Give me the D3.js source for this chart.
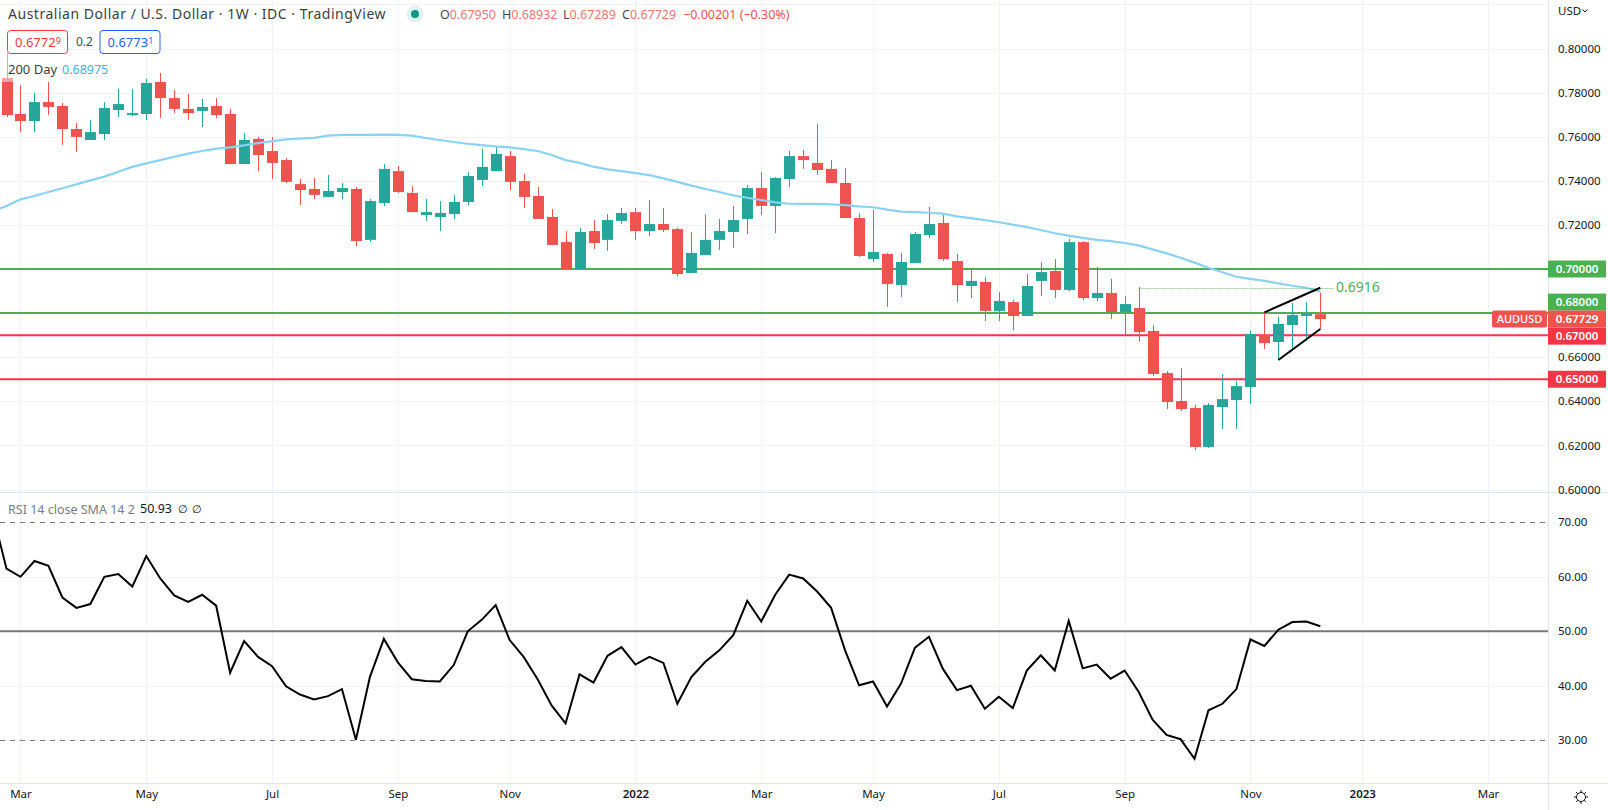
<!DOCTYPE html>
<html>
<head>
<meta charset="utf-8">
<script src="https://cdn.jsdelivr.net/npm/d3@7"></script>
<style>
  html, body { margin: 0; padding: 0; background: #fff; }
  svg { display: block; }
  text { font-family: "Noto Sans", "Open Sans", sans-serif; }
</style>
</head>
<body>
<div id="chart"></div>
<script>
// weekly AUD/USD bars
const opens = [.7866,.7703,.7671,.7757,.7739,.7635,.7585,.7612,.7721,.7698,.7703,.7848,.7775,.7726,.7717,.7739,.7703,.7476,.7590,.7535,.7494,.7385,.7363,.7327,.7349,.7363,.7132,.7299,.7444,.7345,.7245,.7236,.7249,.7304,.7404,.7444,.7512,.7399,.7331,.7236,.7122,.7000,.7172,.7132,.7218,.7258,.7172,.7204,.7181,.6982,.7063,.7132,.7168,.7227,.7367,.7286,.7408,.7512,.7481,.7454,.7390,.7231,.7045,.7068,.6927,.7027,.7154,.7209,.7036,.6923,.6941,.6810,.6850,.6787,.6946,.6991,.6905,.7122,.6868,.6891,.6805,.6823,.6719,.6528,.6401,.6370,.6193,.6374,.6406,.6465,.6701,.6669,.6746,.6787,.67950];
const highs = [.7980,.7834,.7798,.7848,.7753,.7662,.7676,.7757,.7816,.7816,.7862,.7889,.7812,.7794,.7771,.7775,.7726,.7617,.7599,.7599,.7503,.7408,.7413,.7426,.7390,.7372,.7317,.7476,.7467,.7376,.7317,.7308,.7336,.7440,.7544,.7553,.7535,.7431,.7372,.7272,.7172,.7186,.7222,.7249,.7277,.7277,.7313,.7277,.7186,.7168,.7249,.7227,.7286,.7381,.7440,.7417,.7535,.7540,.7658,.7494,.7458,.7254,.7268,.7073,.7073,.7168,.7281,.7245,.7068,.6995,.6964,.6896,.6859,.6977,.7032,.7045,.7136,.7127,.7009,.6955,.6878,.6918,.6746,.6537,.6551,.6383,.6392,.6524,.6492,.6719,.6805,.6782,.6846,.6850,.68932];
const lows = [.7689,.7621,.7621,.7698,.7562,.7531,.7585,.7585,.7689,.7694,.7676,.7685,.7707,.7676,.7644,.7685,.7476,.7476,.7444,.7408,.7390,.7290,.7317,.7327,.7317,.7104,.7122,.7286,.7345,.7258,.7218,.7172,.7227,.7290,.7376,.7444,.7358,.7277,.7227,.7109,.7000,.7000,.7091,.7082,.7204,.7132,.7150,.7168,.6968,.6982,.7063,.7086,.7095,.7159,.7245,.7163,.7372,.7454,.7426,.7390,.7231,.7054,.7032,.6828,.6873,.7027,.7141,.7036,.6850,.6868,.6764,.6764,.6723,.6787,.6878,.6868,.6900,.6859,.6855,.6773,.6701,.6669,.6515,.6365,.6356,.6179,.6188,.6274,.6274,.6388,.6637,.6587,.6642,.6673,.67289];
const closes = [.7698,.7671,.7757,.7735,.7635,.7599,.7621,.7730,.7748,.7707,.7844,.7775,.7726,.7707,.7735,.7698,.7476,.7585,.7517,.7481,.7395,.7358,.7336,.7354,.7367,.7127,.7308,.7454,.7349,.7258,.7258,.7254,.7304,.7422,.7463,.7522,.7395,.7327,.7227,.7109,.7000,.7168,.7118,.7222,.7254,.7172,.7204,.7177,.6977,.7073,.7132,.7172,.7222,.7367,.7286,.7413,.7512,.7494,.7449,.7390,.7231,.7059,.7077,.6932,.7032,.7159,.7204,.7045,.6927,.6946,.6810,.6855,.6787,.6923,.6986,.6905,.7122,.6868,.6891,.6805,.6841,.6714,.6524,.6397,.6365,.6193,.6383,.6410,.6469,.6705,.6664,.6751,.6791,.6796,.67729];

// 200 day average, first value belongs to the bar before the first candle
const ma200 = [.7263,.7286,.7316,.7331,.7349,.7366,.7384,.7402,.7419,.7441,.7463,.7479,.7494,.7509,.7523,.7535,.7546,.7552,.7561,.7571,.7580,.7588,.7591,.7595,.7605,.7608,.7608,.7608,.7609,.7608,.7605,.7594,.7585,.7576,.7568,.7562,.7556,.7552,.7544,.7535,.7517,.7494,.7481,.7464,.7452,.7444,.7435,.7426,.7411,.7395,.7378,.7363,.7349,.7334,.7323,.7313,.7302,.7296,.7295,.7295,.7293,.7290,.7284,.7280,.7269,.7260,.7258,.7255,.7251,.7239,.7231,.7222,.7212,.7201,.7190,.7177,.7162,.7151,.7141,.7132,.7126,.7118,.7107,.7089,.7071,.7051,.7029,.7006,.6985,.6965,.6955,.6946,.6935,.6924,.6915,.68975];

// RSI, same offset as ma200
const rsi = [71.7,61.5,60.0,62.9,62.0,56.2,54.3,55.0,60.0,60.5,58.2,63.8,59.7,56.6,55.4,56.7,54.7,42.4,48.2,45.3,43.6,39.9,38.4,37.5,38.1,39.4,30.1,41.6,48.6,44.3,41.2,40.9,40.8,43.8,50.0,52.1,54.8,48.4,45.3,41.2,36.4,33.1,42.1,40.6,45.5,47.1,43.9,45.3,44.2,36.7,41.6,44.4,46.5,49.3,55.6,51.8,56.7,60.4,59.7,57.3,54.3,46.5,40.1,40.8,36.2,40.4,47.0,49.0,43.1,39.2,40.0,35.8,38.0,35.9,42.8,45.6,42.8,51.9,43.2,43.9,41.3,42.8,38.9,33.8,31.0,30.2,26.6,35.5,36.7,39.4,48.5,47.3,50.3,51.7,51.8,50.93];

const priceTicks = [.80,.78,.76,.74,.72,.66,.64,.62,.60];
const priceGrid = [.82,.80,.78,.76,.74,.72,.70,.68,.66,.64,.62,.60];
const rsiTicks = [70,60,50,40,30];
const rsiGrid = [60,40];
const timeTicks = [1,10,19,28,36,45,54,62,71,80,89,97,106];
const timeLabels = ["Mar","May","Jul","Sep","Nov","2022","Mar","May","Jul","Sep","Nov","2023","Mar"];

const levels = [.70,.68,.67,.65];
const levelColors = ["#4caf50","#4caf50","#f23645","#f23645"];
const levelShift = [0,-11,1,0];

const wedgeUpper = [[90,.6803],[94,.6915]];
const wedgeLower = [[91,.6587],[94,.6728]];
const dottedFrom = 81, dottedLevel = .6916;
const lastPrice = .67729;

const w = 1608, h = 810;
const plotRight = 1548, paneEnd = 490, rsiTop = 493, plotBottom = 783;

const x = d3.scaleLinear().domain([0,94]).range([6.5,1320.3]);
const y = d3.scaleLinear().domain([.60,.80]).range([489.5,48.5]);
const yR = d3.scaleLinear().domain([30,70]).range([740.3,522.3]);

const up = "#26a69a", down = "#ef5350", grid = "#f0f3fa", ink = "#131722", gray = "#787b86";

const svg = d3.select("#chart").append("svg").attr("width",w).attr("height",h);
const defs = svg.append("defs");
defs.append("clipPath").attr("id","main").append("rect").attr("width",plotRight).attr("height",paneEnd);
defs.append("clipPath").attr("id","low").append("rect").attr("y",rsiTop).attr("width",plotRight).attr("height",plotBottom-rsiTop);

// grid
const gridG = svg.append("g").attr("stroke",grid).attr("stroke-width",1);
gridG.selectAll(".v").data(timeTicks).join("line")
  .attr("x1",d=>Math.round(x(d))+.5).attr("x2",d=>Math.round(x(d))+.5).attr("y1",0).attr("y2",plotBottom);
gridG.selectAll(".p").data(priceGrid).join("line")
  .attr("x1",0).attr("x2",plotRight).attr("y1",d=>Math.round(y(d))+.5).attr("y2",d=>Math.round(y(d))+.5);
gridG.selectAll(".r").data(rsiGrid).join("line")
  .attr("x1",0).attr("x2",plotRight).attr("y1",d=>Math.round(yR(d))+.5).attr("y2",d=>Math.round(yR(d))+.5);

// price pane
const main = svg.append("g").attr("clip-path","url(#main)");
main.selectAll(".level").data(levels).join("line")
  .attr("x1",0).attr("x2",plotRight).attr("y1",d=>y(d)).attr("y2",d=>y(d))
  .attr("stroke",(d,i)=>levelColors[i]).attr("stroke-width",2);

const candles = main.selectAll(".candle").data(d3.range(opens.length)).join("g")
  .attr("fill",i=>closes[i]>=opens[i]?up:down);
candles.append("rect")
  .attr("x",i=>Math.round(x(i))).attr("width",1)
  .attr("y",i=>y(highs[i])).attr("height",i=>y(lows[i])-y(highs[i]));
candles.append("rect")
  .attr("x",i=>Math.round(x(i))-5).attr("width",11)
  .attr("y",i=>y(Math.max(opens[i],closes[i])))
  .attr("height",i=>Math.max(1,Math.abs(y(opens[i])-y(closes[i]))));

const maLine = d3.line().x((d,i)=>x(i-1)).y(d=>y(d));
main.append("path").datum(ma200).attr("d",maLine)
  .attr("fill","none").attr("stroke","#8ad2f1").attr("stroke-width",2.2);

main.append("line")
  .attr("x1",x(dottedFrom)).attr("x2",1334)
  .attr("y1",Math.round(y(dottedLevel))+.5).attr("y2",Math.round(y(dottedLevel))+.5)
  .attr("stroke","#4caf50").attr("stroke-opacity",.8).attr("stroke-dasharray","1 1");
main.selectAll(".wedge").data([wedgeUpper,wedgeLower]).join("line")
  .attr("x1",d=>x(d[0][0])).attr("y1",d=>y(d[0][1]))
  .attr("x2",d=>x(d[1][0])).attr("y2",d=>y(d[1][1]))
  .attr("stroke","#000").attr("stroke-width",2);
main.append("text").attr("x",1336).attr("y",y(dottedLevel)).attr("dy",".35em")
  .attr("font-size",14).attr("fill","#4caf50").text(dottedLevel);

// rsi pane
const lowG = svg.append("g").attr("clip-path","url(#low)");
lowG.selectAll(".band").data([70,30]).join("line")
  .attr("x1",0).attr("x2",plotRight).attr("y1",d=>Math.round(yR(d))+.5).attr("y2",d=>Math.round(yR(d))+.5)
  .attr("stroke",gray).attr("stroke-dasharray","5 5");
lowG.append("line").attr("x1",0).attr("x2",plotRight).attr("y1",yR(50)).attr("y2",yR(50))
  .attr("stroke","#787878").attr("stroke-width",2);
lowG.append("path").datum(rsi)
  .attr("d",d3.line().x((d,i)=>x(i-1)).y(d=>yR(d)))
  .attr("fill","none").attr("stroke","#000").attr("stroke-width",2);

// separators
const sep = svg.append("g").attr("stroke","#e0e3eb");
sep.append("line").attr("x1",0).attr("x2",w).attr("y1",492.5).attr("y2",492.5);
sep.append("line").attr("x1",0).attr("x2",w).attr("y1",plotBottom+.5).attr("y2",plotBottom+.5);
sep.append("line").attr("x1",plotRight+.5).attr("x2",plotRight+.5).attr("y1",0).attr("y2",h);

// axes
const styleAxis = g => {
  g.select(".domain").remove();
  g.selectAll("text").attr("font-size",11.5).attr("fill",ink);
};
svg.append("g").attr("transform",`translate(${plotRight},0)`)
  .call(d3.axisRight(y).tickValues(priceTicks).tickSize(0).tickPadding(10).tickFormat(d3.format(".5f")))
  .call(styleAxis);
svg.append("g").attr("transform",`translate(${plotRight},0)`)
  .call(d3.axisRight(yR).tickValues(rsiTicks).tickSize(0).tickPadding(10).tickFormat(d3.format(".2f")))
  .call(styleAxis);
const xAxis = d3.axisBottom(x).tickValues(timeTicks).tickSize(0).tickPadding(7)
  .tickFormat(d=>timeLabels[timeTicks.indexOf(d)]);
svg.append("g").attr("transform",`translate(0,${plotBottom})`).call(xAxis).call(styleAxis)
  .selectAll("text").attr("font-weight",(d,i)=>/^\d/.test(timeLabels[i])?600:400);

// level tags on the price scale
const tags = svg.append("g");
const tag = (x0,width,cy,fill,label,weight) => {
  tags.append("rect").attr("x",x0).attr("y",cy-8.5).attr("width",width).attr("height",17).attr("fill",fill);
  tags.append("text").attr("x",x0+width/2).attr("y",cy).attr("dy",".35em").attr("text-anchor","middle")
    .attr("font-size",11.5).attr("font-weight",weight).attr("fill","#fff").text(label);
};
levels.forEach((d,i)=>tag(plotRight,58,y(d)+levelShift[i],levelColors[i],d3.format(".5f")(d),600));
tag(plotRight,58,y(lastPrice),down,d3.format(".5f")(lastPrice),600);
tags.append("rect").attr("x",1492).attr("y",y(lastPrice)-8.5).attr("width",55).attr("height",17).attr("rx",2).attr("fill",down);
tags.append("text").attr("x",1519.5).attr("y",y(lastPrice)).attr("dy",".35em").attr("text-anchor","middle")
  .attr("font-size",11).attr("font-weight",500).attr("fill","#fff").text("AUDUSD");

// currency, gear
svg.append("text").attr("x",1558).attr("y",11).attr("dy",".35em").attr("font-size",11.5).attr("fill",ink).text("USD");
svg.append("path").attr("d","M1582.5 9.5l2.5 2.5 2.5-2.5").attr("fill","none").attr("stroke",ink);
const gear = svg.append("g").attr("transform","translate(1581,797)").attr("fill","none").attr("stroke",ink);
gear.append("circle").attr("r",4.5);
gear.selectAll("line").data(d3.range(8)).join("line")
  .attr("x1",i=>4.5*Math.cos(i*Math.PI/4)).attr("y1",i=>4.5*Math.sin(i*Math.PI/4))
  .attr("x2",i=>7*Math.cos(i*Math.PI/4)).attr("y2",i=>7*Math.sin(i*Math.PI/4));

// legend rows
const legend = svg.append("g");
const label = (px,py,size,fill,str) => legend.append("text").attr("x",px).attr("y",py).attr("dy",".35em")
  .attr("font-size",size).attr("fill",fill).text(str);
legend.append("rect").attr("x",0).attr("y",53).attr("width",108).attr("height",29).attr("fill","#fff").attr("fill-opacity",.45);
label(8,14.5,14,ink,"Australian Dollar / U.S. Dollar · 1W · IDC · TradingView")
  .attr("letter-spacing",.52).attr("opacity",.85);
legend.append("circle").attr("cx",415).attr("cy",14).attr("r",8.5).attr("fill","#089981").attr("fill-opacity",.13);
legend.append("circle").attr("cx",415).attr("cy",14).attr("r",4).attr("fill","#089981");

const ohlc = [["O","0.67950",440],["H","0.68932",502],["L","0.67289",563],["C","0.67729",622]];
ohlc.forEach(([k,v,px])=>{
  const t = label(px,15,12.5,ink,k).attr("opacity",.8);
  t.append("tspan").attr("fill",down).text(v);
});
label(683,15,12.5,down,"−0.00201 (−0.30%)");

const box = (x0,width,color,str,sup) => {
  legend.append("rect").attr("x",x0+.5).attr("y",30.5).attr("width",width).attr("height",23).attr("rx",3)
    .attr("fill","#fff").attr("stroke",color);
  const t = label(x0+8,42,13,color,str);
  t.append("tspan").attr("font-size",9).attr("dy","-3").text(sup);
};
box(7,60,"#f23645","0.6772","9");
label(76,42,12,ink,"0.2").attr("opacity",.8);
box(99.5,60,"#2962ff","0.6773","1");

label(8,69.5,13,ink,"200 Day").attr("opacity",.85);
label(62,69.5,12.5,"#42b0e0","0.68975");

label(8,509.5,12.5,gray,"RSI 14 close SMA 14 2");
label(140,509,12.5,ink,"50.93");
label(178,509,10.5,ink,"∅");
label(191.5,509,10.5,ink,"∅");
</script>
</body>
</html>
